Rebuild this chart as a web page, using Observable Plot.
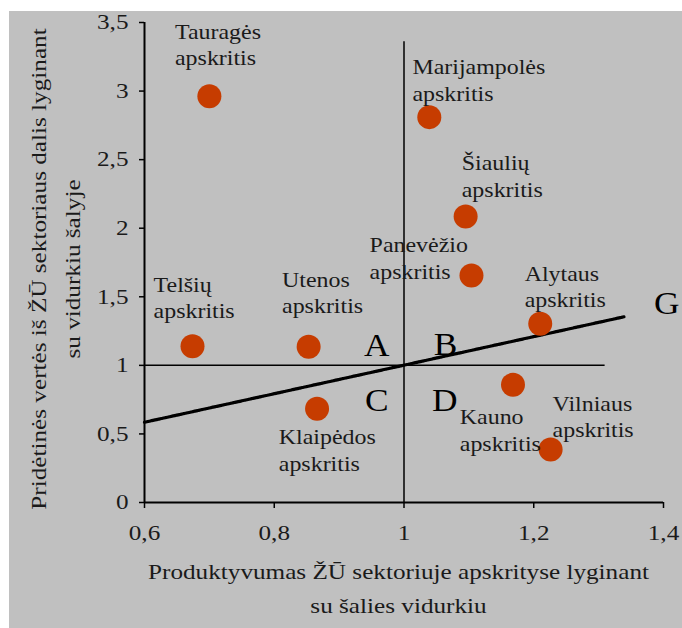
<!DOCTYPE html>
<html><head><meta charset="utf-8">
<script src="https://cdn.jsdelivr.net/npm/d3@7"></script>
<script src="https://cdn.jsdelivr.net/npm/@observablehq/plot@0.6"></script>
<style>
html,body{margin:0;padding:0;background:#fff;}
#panel{position:absolute;left:9px;top:11px;width:673px;height:617px;background:#c0c0c0;overflow:hidden;}
</style></head><body><div id="panel"></div>
<script>
// Data
const regions = ["Tauragės","Marijampolės","Šiaulių","Panevėžio","Alytaus","Telšių","Utenos","Klaipėdos","Kauno","Vilniaus"];
const productivity = [0.700, 1.039, 1.095, 1.104, 1.210, 0.674, 0.853, 0.866, 1.168, 1.226];
const valueAddedShare = [2.963, 2.810, 2.085, 1.655, 1.303, 1.140, 1.135, 0.683, 0.858, 0.386];
const labelSuffix = "apskritis";
// label anchor (start of text, baseline of last line) in data units
const labelX = [0.647, 1.013, 1.089, 0.947, 1.186, 0.614, 0.812, 0.807, 1.086, 1.229];
const labelY = [3.187, 2.931, 2.231, 1.633, 1.424, 1.342, 1.380, 0.233, 0.379, 0.474];

const quadrantLetters = ["A", "B", "C", "D", "G"];
const letterX = [0.958, 1.064, 0.958, 1.063, 1.405];
const letterY = [1.065, 1.072, 0.664, 0.664, 1.378];

const trendX = [0.6, 1.34];
const trendY = [0.585, 1.355];

const xTicks = [0.6, 0.8, 1, 1.2, 1.4];
const yTicks = [0, 0.5, 1, 1.5, 2, 2.5, 3, 3.5];
const xTitle = "Produktyvumas ŽŪ sektoriuje apskrityse lyginant\nsu šalies vidurkiu";
const yTitle = "Pridėtinės vertės iš ŽŪ sektoriaus dalis lyginant\nsu vidurkiu šalyje";

const points = regions.map((r, i) => ({name: r, x: productivity[i], y: valueAddedShare[i], lx: labelX[i], ly: labelY[i], label: r + "\n" + labelSuffix}));
const letters = quadrantLetters.map((t, i) => ({t, x: letterX[i], y: letterY[i]}));
const trend = trendX.map((x, i) => ({x, y: trendY[i]}));
const fmt = d => String(d).replace(".", ",");
const FONT = "Liberation Serif";

const chart = Plot.plot({
  width: 673, height: 617,
  marginLeft: 135, marginRight: 19, marginTop: 11, marginBottom: 126,
  style: {background: "transparent", fontFamily: FONT, fontSize: "21px", color: "#000"},
  x: {domain: [0.6, 1.4]},
  y: {domain: [0, 3.5]},
  marks: [
    Plot.axisY({ticks: yTicks, tickFormat: fmt, tickSize: 5, tickPadding: 11, fontSize: 21, fontFamily: FONT, label: null, strokeWidth: 1.5, fill: "#1a1a1a", className: "wide"}),
    Plot.axisX({ticks: xTicks, tickFormat: fmt, tickSize: 6, tickPadding: 17, fontSize: 21, fontFamily: FONT, label: null, strokeWidth: 1.5, fill: "#1a1a1a", className: "wide"}),
    Plot.ruleX([0.6], {y1: 0, y2: 3.5, stroke: "#000", strokeWidth: 2}),
    Plot.ruleY([0], {x1: 0.6, x2: 1.4, stroke: "#000", strokeWidth: 2}),
    Plot.ruleX([1], {y1: 0, y2: 3.36, stroke: "#000", strokeWidth: 1.5}),
    Plot.ruleY([1], {x1: 0.6, x2: 1.31, stroke: "#000", strokeWidth: 1.5}),
    Plot.line(trend, {x: "x", y: "y", stroke: "#000", strokeWidth: 3.2, strokeDasharray: "2.5,1.2"}),
    Plot.dot(points, {x: "x", y: "y", r: 12, fill: "#c63c00", stroke: "none"}),
    Plot.text(points, {x: "lx", y: "ly", text: "label", textAnchor: "start", lineAnchor: "bottom", lineHeight: 1.26, fontSize: 21, fontFamily: FONT, fill: "#1a1a1a"}),
    Plot.text(letters, {x: "x", y: "y", text: "t", textAnchor: "middle", lineAnchor: "bottom", fontSize: 31, fontFamily: FONT, fill: "#000"}),
    Plot.text([xTitle], {frameAnchor: "bottom", textAnchor: "middle", dx: -5.5, dy: 110, lineAnchor: "bottom", lineHeight: 1.6, fontSize: 21, fontFamily: FONT, fill: "#1a1a1a", className: "wide"}),
    Plot.text([yTitle], {frameAnchor: "left", textAnchor: "middle", rotate: -90, dx: -65, dy: 6.5, lineAnchor: "bottom", lineHeight: 1.6, fontSize: 21, fontFamily: FONT, fill: "#1a1a1a", className: "wide"})
  ]
});
// horizontal widening of glyphs, as in the reference
chart.querySelectorAll("text").forEach(t => {
  const S = t.closest(".wide") ? 1.2 : 1.14;
  const x = +(t.getAttribute("x") || 0);
  const tr = t.getAttribute("transform") || "";
  t.setAttribute("transform", `${tr} translate(${x},0) scale(${S},1) translate(${-x},0)`);
});
document.getElementById("panel").appendChild(chart);
</script>
</body></html>
